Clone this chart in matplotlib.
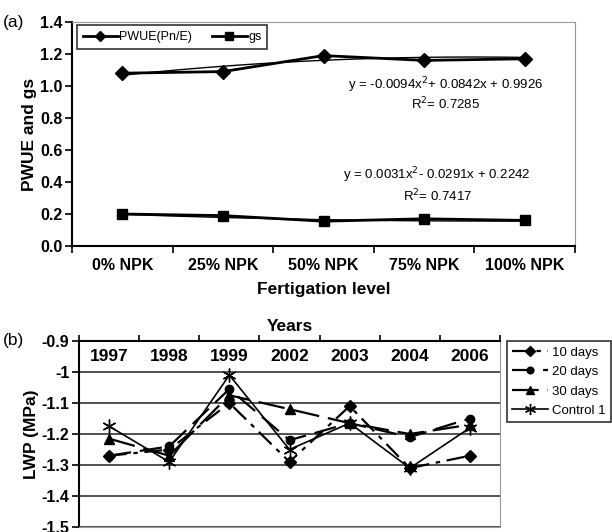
import numpy as np
import matplotlib.pyplot as plt

plt.rcParams['font.family'] = ['Liberation Sans', 'DejaVu Sans']

# panel (a)
levels = ['0% NPK', '25% NPK', '50% NPK', '75% NPK', '100% NPK']
pwue = [1.08, 1.09, 1.19, 1.16, 1.17]
gs = [0.20, 0.19, 0.155, 0.17, 0.16]
pwue_fit = [-0.0094, 0.0842, 0.9926]
gs_fit = [0.0031, -0.0291, 0.2242]

# panel (b)
years = ['1997', '1998', '1999', '2002', '2003', '2004', '2006']
d10 = [-1.27, -1.25, -1.10, -1.29, -1.11, -1.31, -1.27]
d20 = [-1.27, -1.24, -1.055, -1.22, -1.165, -1.21, -1.15]
d30 = [-1.215, -1.27, -1.075, -1.12, -1.165, -1.20, -1.17]
control = [-1.175, -1.29, -1.01, -1.25, -1.165, -1.31, -1.18]

fig = plt.figure(figsize=(6.12, 5.32), dpi=100)

# ---------- (a) ----------
ax = fig.add_axes([72/612, 1-246/532, 503/612, 224/532])
x = np.arange(1, 6)
xs = np.linspace(1, 5, 60)
ax.plot(xs, np.polyval(pwue_fit, xs), color='black', lw=1)
ax.plot(xs, np.polyval(gs_fit, xs), color='black', lw=1)
ax.plot(x, pwue, color='black', lw=2, marker='D', ms=7, label='PWUE(Pn/E)')
ax.plot(x, gs, color='black', lw=2, marker='s', ms=7, label='gs')

ax.set_xlim(0.5, 5.5)
ax.set_ylim(0, 1.4)
ax.set_yticks(np.arange(0, 1.41, 0.2))
ax.set_yticklabels(['%.1f' % v for v in np.arange(0, 1.41, 0.2)],
                   fontsize=11.5, fontweight='bold')
ax.set_xticks(x)
ax.set_xticklabels(levels, fontsize=11.5, fontweight='bold')
ax.set_xticks(np.arange(0.5, 5.6, 1), minor=True)
ax.tick_params(axis='x', which='major', length=0, pad=9)
ax.tick_params(axis='x', which='minor', length=5, width=1.2, direction='out')
ax.tick_params(axis='y', length=5, width=1.2, direction='out', pad=2)
for s in ['left', 'bottom']:
    ax.spines[s].set_linewidth(1.5)
for s in ['top', 'right']:
    ax.spines[s].set_color('#999999')
ax.set_ylabel('PWUE and gs', fontsize=12.5, fontweight='bold', labelpad=2)
ax.set_xlabel('Fertigation level', fontsize=12.5, fontweight='bold', labelpad=6)

ax.text(4.21, 1.006, r'y = -0.0094x$^2$+ 0.0842x + 0.9926', ha='center',
        va='center', fontsize=9.5)
ax.text(4.21, 0.885, r'R$^2$= 0.7285', ha='center', va='center', fontsize=9.5)
ax.text(4.13, 0.44, r'y = 0.0031x$^2$- 0.0291x + 0.2242', ha='center',
        va='center', fontsize=9.5)
ax.text(4.13, 0.315, r'R$^2$= 0.7417', ha='center', va='center', fontsize=9.5)

leg = ax.legend(loc='upper left', bbox_to_anchor=(0.01, 0.985), ncol=2,
                fontsize=9, frameon=True, fancybox=False, handlelength=2.8,
                columnspacing=1.6, borderpad=0.45, handletextpad=0.1,
                borderaxespad=0, markerscale=0.8)
leg.get_frame().set_edgecolor('black')
leg.get_frame().set_linewidth(1.2)
fig.text(3/612, 1-22/532, '(a)', fontsize=12.5, va='center')

# ---------- (b) ----------
bx = fig.add_axes([79/612, 1-527/532, 421/612, 186/532])
xb = np.arange(1, 8)
bx.plot(xb, d10, color='black', lw=1.6, dashes=(8, 3, 2, 3), marker='D',
        ms=6, label='10 days')
bx.plot(xb, d20, color='black', lw=1.6, dashes=(10, 4), marker='o',
        ms=6, label='20 days')
bx.plot(xb, d30, color='black', lw=1.6, dashes=(12, 4), marker='^',
        ms=7, label='30 days')
bx.plot(xb, control, color='black', lw=1.2, marker=(6, 2, 0), ms=10, mew=1,
        label='Control 1')

bx.set_xlim(0.5, 7.5)
bx.set_ylim(-1.5, -0.9)
yt = [-1.5, -1.4, -1.3, -1.2, -1.1, -1.0, -0.9]
bx.set_yticks(yt)
bx.set_yticklabels(['-1.5', '-1.4', '-1.3', '-1.2', '-1.1', '-1', '-0.9'],
                   fontsize=11.5, fontweight='bold')
bx.yaxis.grid(True, color='#333333', lw=1.2)
bx.set_axisbelow(True)
bx.set_xticks(np.arange(0.5, 7.6, 1))
bx.tick_params(axis='x', bottom=False, top=True, labelbottom=False,
               labeltop=False, length=4, width=1.2, direction='out')
bx.tick_params(axis='y', length=5, width=1.2, direction='out', pad=2)
for i, yr in enumerate(years):
    bx.text(xb[i], -0.951, yr, ha='center', va='center', fontsize=12.5,
            fontweight='bold')
for s in ['left', 'top']:
    bx.spines[s].set_linewidth(1.5)
for s in ['bottom', 'right']:
    bx.spines[s].set_color('#999999')
bx.set_ylabel('LWP (MPa)', fontsize=12.5, fontweight='bold', labelpad=2)
bx.set_title('Years', fontsize=12.5, fontweight='bold', pad=7)
fig.text(3/612, 1-341/532, '(b)', fontsize=12.5, va='center')

lb = fig.legend(*bx.get_legend_handles_labels(), loc='upper left',
                bbox_to_anchor=(507/612, 1-341/532), fontsize=9.5,
                fancybox=False, handlelength=2.7, handletextpad=0.3,
                borderpad=0.4, labelspacing=0.55, borderaxespad=0,
                markerscale=0.8)
lb.get_frame().set_edgecolor('black')
lb.get_frame().set_linewidth(1.2)

fig.savefig('out.png', dpi=100)
